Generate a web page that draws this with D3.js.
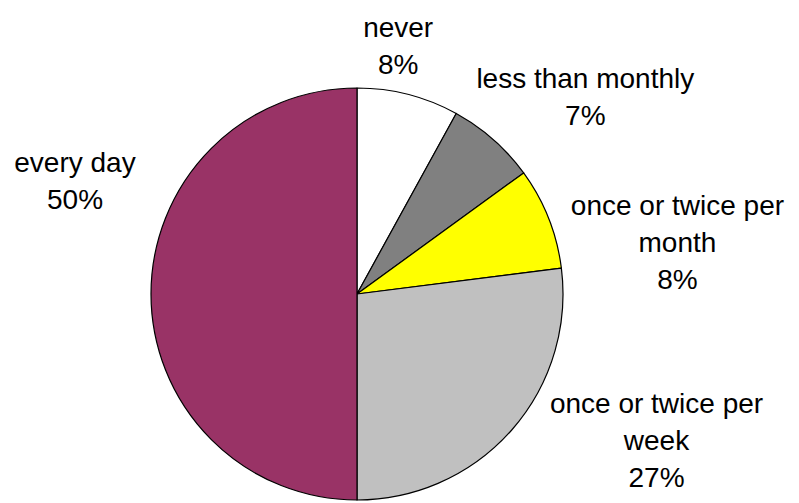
<!DOCTYPE html>
<html>
<head>
<meta charset="utf-8">
<script src="https://cdn.jsdelivr.net/npm/d3@7"></script>
<style>
  body { margin: 0; background: #fff; }
  svg { display: block; font-family: "Liberation Sans", Arial, sans-serif; }
</style>
</head>
<body>
<svg id="chart" width="799" height="503"></svg>
<script>
const categories = ["never", "less than monthly", "once or twice per month", "once or twice per week", "every day"];
const values = [8, 7, 8, 27, 50];
const colors = ["#ffffff", "#808080", "#ffff00", "#c0c0c0", "#993366"];

// label nudges from the outer anchor point (layout only)
const labelNudge = [[-21, -6], [63, -10], [88, 40], [112, -19], [-32, -114]];

const svg = d3.select("#chart");
const cx = 357, cy = 294, radius = 206;
const fontSize = 28, lineH = 37, maxW = 232;

const g = svg.append("g").attr("transform", `translate(${cx},${cy})`);

const pie = d3.pie().sort(null).value(d => d.value);
const arcs = pie(categories.map((c, i) => ({ name: c, value: values[i], color: colors[i] })));

const arc = d3.arc().innerRadius(0).outerRadius(radius);
const outer = d3.arc().innerRadius(250).outerRadius(250);

g.selectAll("path.slice")
  .data(arcs)
  .enter().append("path")
  .attr("class", "slice")
  .attr("d", arc)
  .style("fill", d => d.data.color)
  .style("stroke", "#000")
  .style("stroke-width", 1.2)
  .style("stroke-linejoin", "round");

// word wrap helper
function wrapText(str) {
  const probe = svg.append("text").style("font-size", fontSize + "px");
  const words = str.split(" ");
  const lines = [];
  let cur = "";
  words.forEach(w => {
    const test = cur ? cur + " " + w : w;
    probe.text(test);
    if (probe.node().getComputedTextLength() > maxW && cur) {
      lines.push(cur);
      cur = w;
    } else {
      cur = test;
    }
  });
  if (cur) lines.push(cur);
  probe.remove();
  return lines;
}

arcs.forEach((d, i) => {
  const lines = wrapText(d.data.name).concat([d.data.value + "%"]);
  const [ax, ay] = outer.centroid(d);
  const x = ax + labelNudge[i][0];
  const y = ay + labelNudge[i][1];
  const first = y - (lines.length - 1) * lineH / 2 + 10;
  const t = g.append("text")
    .attr("text-anchor", "middle")
    .style("font-size", fontSize + "px")
    .style("fill", "#000");
  lines.forEach((ln, j) => {
    t.append("tspan")
      .attr("x", x)
      .attr("y", first + j * lineH)
      .text(ln);
  });
});
</script>
</body>
</html>
